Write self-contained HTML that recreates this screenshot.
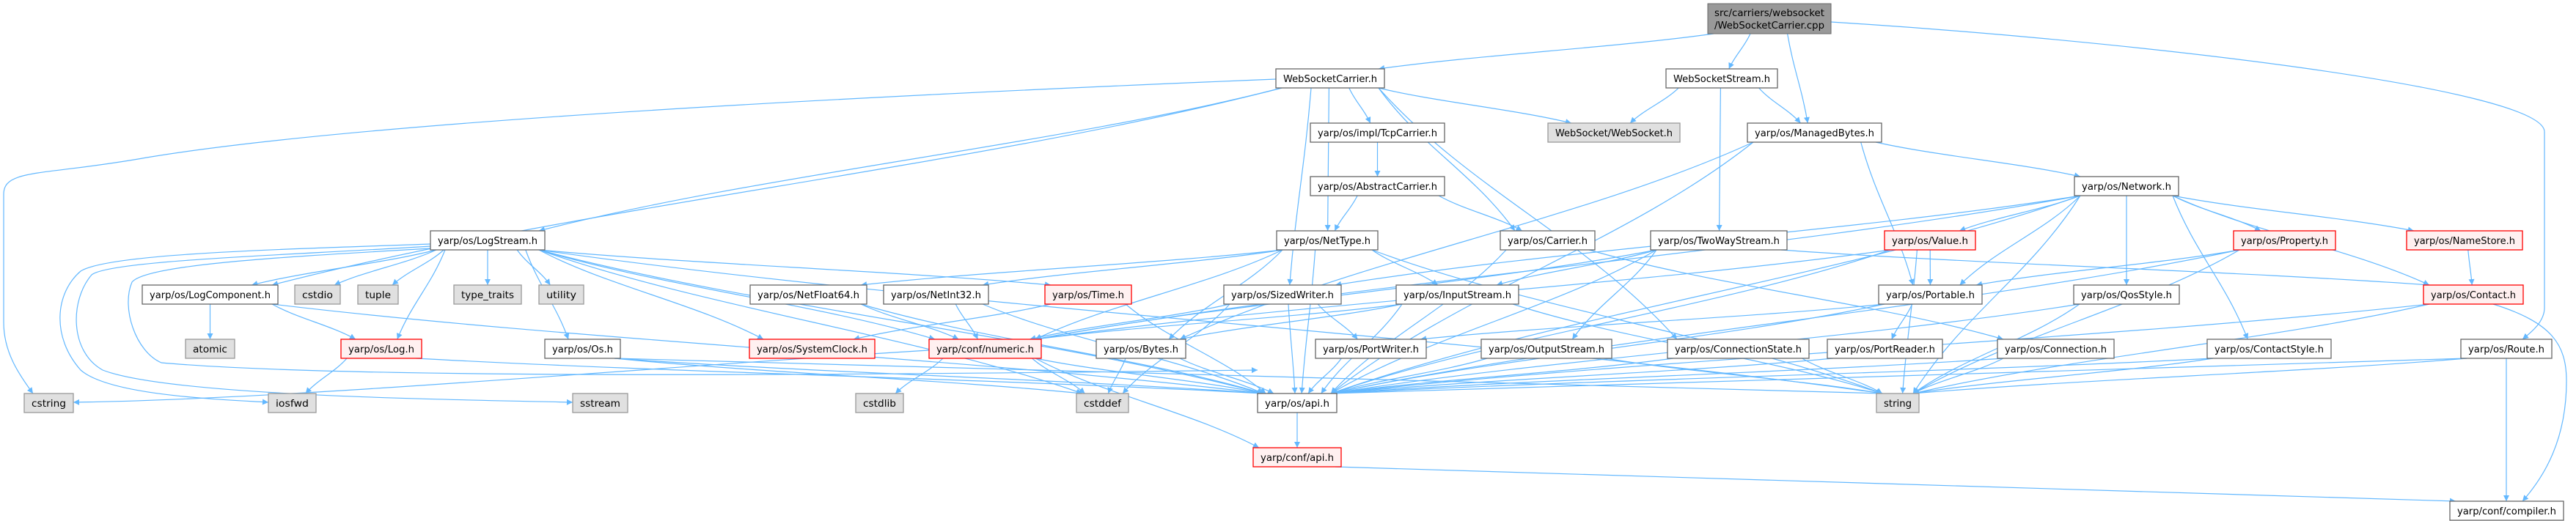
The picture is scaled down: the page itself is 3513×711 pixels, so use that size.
<!DOCTYPE html>
<html><head><meta charset="utf-8"><style>
html,body{margin:0;padding:0;background:#fff;width:3513px;height:711px;overflow:hidden}
svg{display:block}
text{font-family:"DejaVu Sans","Liberation Sans",sans-serif;font-size:13px;fill:#000}
</style></head><body>
<svg id="g" width="3513" height="711" viewBox="0 0 3513 711" xmlns="http://www.w3.org/2000/svg">
<defs><marker id="ah" viewBox="0 0 10 10" refX="10" refY="5" markerWidth="10" markerHeight="8" markerUnits="userSpaceOnUse" orient="auto"><path d="M0,0L10,5L0,10z" fill="#63b8ff"/></marker></defs>
<g id="edges" fill="none" stroke="#63b8ff" stroke-width="1.2"></g>
<g id="nodes">
<rect x="2329" y="5" width="168" height="41" fill="#999" stroke="#666"/><text x="2413" y="22" text-anchor="middle" textLength="150" lengthAdjust="spacingAndGlyphs">src/carriers/websocket</text><text x="2413" y="39" text-anchor="middle" textLength="150" lengthAdjust="spacingAndGlyphs">/WebSocketCarrier.cpp</text>
</g>
</svg>
<div id="labels" style="display:none">
<span data-k="WSC" data-x="1740,1888,2" data-c="w">WebSocketCarrier.h</span>
<span data-k="WSS" data-x="2272,2424,2" data-c="w">WebSocketStream.h</span>
<span data-k="TCP" data-x="1787,1970,3" data-c="w">yarp/os/impl/TcpCarrier.h</span>
<span data-k="WS" data-x="2111,2291,3" data-c="g">WebSocket/WebSocket.h</span>
<span data-k="MB" data-x="2383,2566,3" data-c="w">yarp/os/ManagedBytes.h</span>
<span data-k="AC" data-x="1787,1970,4" data-c="w">yarp/os/AbstractCarrier.h</span>
<span data-k="NW" data-x="2829,2971,4" data-c="w">yarp/os/Network.h</span>
<span data-k="LS" data-x="587,743,5" data-c="w">yarp/os/LogStream.h</span>
<span data-k="NT" data-x="1741,1879,5" data-c="w">yarp/os/NetType.h</span>
<span data-k="CA" data-x="2046,2175,5" data-c="w">yarp/os/Carrier.h</span>
<span data-k="TW" data-x="2251,2437,5" data-c="w">yarp/os/TwoWayStream.h</span>
<span data-k="VA" data-x="2570,2694,5" data-c="r">yarp/os/Value.h</span>
<span data-k="PR" data-x="3046,3185,5" data-c="r">yarp/os/Property.h</span>
<span data-k="NS" data-x="3282,3440,5" data-c="r">yarp/os/NameStore.h</span>
<span data-k="LC" data-x="194,379,6" data-c="w">yarp/os/LogComponent.h</span>
<span data-k="cstdio" data-x="402,464,6" data-c="g">cstdio</span>
<span data-k="tuple" data-x="488,543,6" data-c="g">tuple</span>
<span data-k="tt" data-x="619,711,6" data-c="g">type_traits</span>
<span data-k="ut" data-x="735,796,6" data-c="g">utility</span>
<span data-k="NF" data-x="1023,1182,6" data-c="w">yarp/os/NetFloat64.h</span>
<span data-k="NI" data-x="1205,1348,6" data-c="w">yarp/os/NetInt32.h</span>
<span data-k="TI" data-x="1425,1543,6" data-c="r">yarp/os/Time.h</span>
<span data-k="SW" data-x="1669,1829,6" data-c="w">yarp/os/SizedWriter.h</span>
<span data-k="IS" data-x="1904,2071,6" data-c="w">yarp/os/InputStream.h</span>
<span data-k="PO" data-x="2562,2703,6" data-c="w">yarp/os/Portable.h</span>
<span data-k="QS" data-x="2828,2972,6" data-c="w">yarp/os/QosStyle.h</span>
<span data-k="CO" data-x="3305,3441,6" data-c="r">yarp/os/Contact.h</span>
<span data-k="atomic" data-x="253,320,7" data-c="g">atomic</span>
<span data-k="LG" data-x="465,575,7" data-c="r">yarp/os/Log.h</span>
<span data-k="OS" data-x="743,846,7" data-c="w">yarp/os/Os.h</span>
<span data-k="SC" data-x="1022,1193,7" data-c="r">yarp/os/SystemClock.h</span>
<span data-k="NU" data-x="1267,1420,7" data-c="r">yarp/conf/numeric.h</span>
<span data-k="BY" data-x="1495,1617,7" data-c="w">yarp/os/Bytes.h</span>
<span data-k="PW" data-x="1794,1945,7" data-c="w">yarp/os/PortWriter.h</span>
<span data-k="OUT" data-x="2020,2198,7" data-c="w">yarp/os/OutputStream.h</span>
<span data-k="CS" data-x="2274,2467,7" data-c="w">yarp/os/ConnectionState.h</span>
<span data-k="PRR" data-x="2492,2649,7" data-c="w">yarp/os/PortReader.h</span>
<span data-k="CN" data-x="2724,2883,7" data-c="w">yarp/os/Connection.h</span>
<span data-k="CT" data-x="3010,3179,7" data-c="w">yarp/os/ContactStyle.h</span>
<span data-k="RO" data-x="3356,3480,7" data-c="w">yarp/os/Route.h</span>
<span data-k="cstring" data-x="33,100,8" data-c="g">cstring</span>
<span data-k="iosfwd" data-x="366,431,8" data-c="g">iosfwd</span>
<span data-k="sstream" data-x="781,856,8" data-c="g">sstream</span>
<span data-k="cstdlib" data-x="1167,1232,8" data-c="g">cstdlib</span>
<span data-k="cstddef" data-x="1468,1539,8" data-c="g">cstddef</span>
<span data-k="API" data-x="1715,1823,8" data-c="w">yarp/os/api.h</span>
<span data-k="string" data-x="2559,2617,8" data-c="g">string</span>
<span data-k="CAPI" data-x="1709,1829,9" data-c="r">yarp/conf/api.h</span>
<span data-k="CMP" data-x="3341,3496,10" data-c="w">yarp/conf/compiler.h</span>
</div>
<script>
(function(){
var NS="http://www.w3.org/2000/svg";
var tops=[0,5,94,168,241,315,389,463,537,611,684];
var N={ROOT:[2329,2497,5,46]};
var ng=document.getElementById('nodes'),eg=document.getElementById('edges');
var cols={w:['#ffffff','#666666'],g:['#e0e0e0','#999999'],r:['#fff0f0','#ff0000']};
document.querySelectorAll('#labels span').forEach(function(s){
 var p=s.getAttribute('data-x').split(',').map(Number),c=cols[s.getAttribute('data-c')];
 var y=tops[p[2]];N[s.getAttribute('data-k')]=[p[0],p[1],y,y+26];
 var r=document.createElementNS(NS,'rect');
 r.setAttribute('x',p[0]);r.setAttribute('y',y);r.setAttribute('width',p[1]-p[0]);r.setAttribute('height',26);
 r.setAttribute('fill',c[0]);r.setAttribute('stroke',c[1]);r.setAttribute('stroke-width','1.3');ng.appendChild(r);
 var t=document.createElementNS(NS,'text');t.setAttribute('x',(p[0]+p[1])/2);t.setAttribute('y',y+18);
 t.setAttribute('text-anchor','middle');t.setAttribute('textLength',Math.max(10,p[1]-p[0]-20));
 t.setAttribute('lengthAdjust','spacingAndGlyphs');t.textContent=s.textContent;ng.appendChild(t);
});
function addPath(d){var p=document.createElementNS(NS,'path');p.setAttribute('d',d);p.setAttribute('marker-end','url(#ah)');eg.appendChild(p);}
var custom={
 "WSC>cstring":"M1740,108 C1200,130 500,165 200,215 C60,240 5,230 5,265 L5,440 C5,480 25,510 45,537",
 "LS>iosfwd":"M587,333 C400,340 150,345 110,370 C75,400 70,460 110,505 C150,540 300,545 366,549",
 "LS>sstream":"M587,336 C400,348 150,355 125,375 C95,410 95,480 140,505 C230,540 600,545 781,549",
 "LS>cstring":"M587,339 C400,350 200,360 180,385 C165,420 185,480 220,495 C500,520 1300,510 1715,505",
 "NU>cstring":"M1267,478 C900,500 400,545 100,549",
 "CO>CMP":"M3400,415 C3480,440 3500,470 3500,520 C3500,600 3470,650 3440,684",
 "RO>CMP":"M3418,489 L3418,684",
 "ROOT>RO":"M2497,30 C2900,55 3470,120 3470,180 L3470,420 C3470,440 3450,455 3440,463"
};
var E="ROOT>WSC ROOT>WSS ROOT>MB ROOT>RO WSC>cstring WSC>LC WSC>LS WSC>NT WSC>SW WSC>TCP WSC>WS WSC>CA WSC>CS WSS>WS WSS>MB WSS>TW MB>API MB>BY MB>PO MB>NW TCP>AC AC>NT AC>CA NT>NF NT>NI NT>NU NT>IS NT>string NT>BY NT>API CA>CN CA>API LS>LC LS>cstdio LS>tuple LS>tt LS>ut LS>LG LS>OS LS>iosfwd LS>sstream LS>SC LS>TI LS>API LS>string LS>cstring LS>NU LS>cstddef LC>atomic LC>LG LC>API LG>iosfwd LG>API OS>API OS>cstddef OS>string NF>NU NF>API NI>NU NI>API TI>SC TI>API SW>PW SW>NU SW>API SW>cstddef NU>cstring NU>cstdlib NU>cstddef NU>CAPI NU>API BY>cstddef BY>API PW>API API>CAPI CAPI>CMP NW>VA NW>PR NW>NS NW>CO NW>PO NW>QS NW>CT NW>NU NW>string NW>API NW>SW TW>IS TW>OUT TW>CO TW>API TW>NU VA>PO VA>NU VA>API VA>string IS>BY IS>API IS>string IS>NU PO>PRR PO>PW PO>API OUT>API OUT>string CS>API CS>string PRR>API CN>API CN>string PR>PO PR>string PR>API NS>CO CO>API CO>string CO>CMP QS>API QS>string CT>API CT>string RO>API RO>string RO>CMP".split(' ');
E.forEach(function(e){
 if(custom[e]){addPath(custom[e]);return;}
 var a=N[e.split('>')[0]],b=N[e.split('>')[1]];if(!a||!b)return;
 var scx=(a[0]+a[1])/2,tcx=(b[0]+b[1])/2;
 var sx=Math.min(a[1]-8,Math.max(a[0]+8,scx+(tcx-scx)*0.4)),sy=a[3];
 var ex=Math.min(b[1]-8,Math.max(b[0]+8,tcx-(tcx-scx)*0.15)),ey=b[2];
 var dx=ex-sx,dy=ey-sy;
 var d='M'+sx+','+sy+' C'+(sx+dx*0.3)+','+(sy+dy*0.4)+' '+(sx+dx*0.7)+','+(sy+dy*0.6)+' '+ex+','+ey;
 addPath(d);
});
})();
</script>
</body></html>
